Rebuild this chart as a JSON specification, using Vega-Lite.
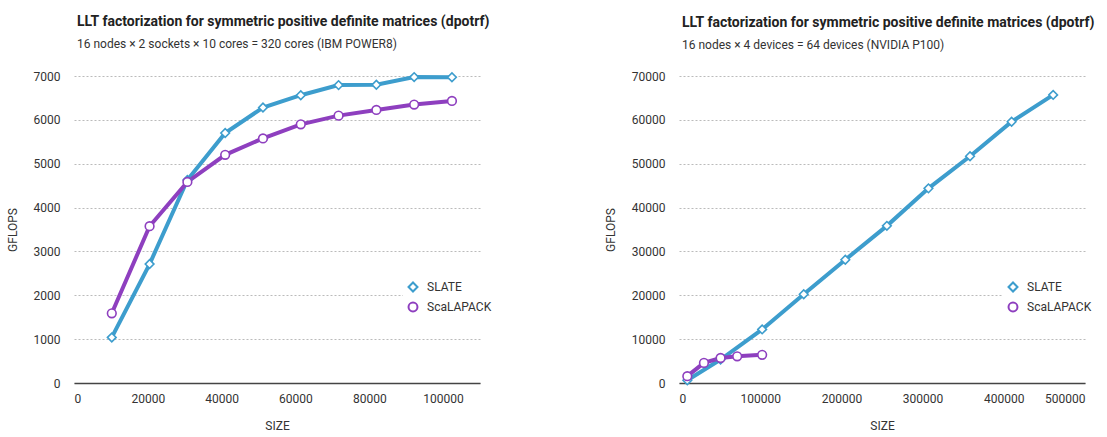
{
  "$schema": "https://vega.github.io/schema/vega-lite/v6.json",
  "background": "white",
  "padding": {"left": 6, "top": 15, "right": 0, "bottom": 0},
  "spacing": 108,
  "datasets": {
    "cpu": [
      {"size": 10240, "gflops": 1039, "lib": "SLATE"},
      {"size": 20480, "gflops": 2712, "lib": "SLATE"},
      {"size": 30720, "gflops": 4630, "lib": "SLATE"},
      {"size": 40960, "gflops": 5699, "lib": "SLATE"},
      {"size": 51200, "gflops": 6280, "lib": "SLATE"},
      {"size": 61440, "gflops": 6562, "lib": "SLATE"},
      {"size": 71680, "gflops": 6792, "lib": "SLATE"},
      {"size": 81920, "gflops": 6799, "lib": "SLATE"},
      {"size": 92160, "gflops": 6975, "lib": "SLATE"},
      {"size": 102400, "gflops": 6972, "lib": "SLATE"},
      {"size": 10240, "gflops": 1589, "lib": "ScaLAPACK"},
      {"size": 20480, "gflops": 3575, "lib": "ScaLAPACK"},
      {"size": 30720, "gflops": 4584, "lib": "ScaLAPACK"},
      {"size": 40960, "gflops": 5203, "lib": "ScaLAPACK"},
      {"size": 51200, "gflops": 5577, "lib": "ScaLAPACK"},
      {"size": 61440, "gflops": 5898, "lib": "ScaLAPACK"},
      {"size": 71680, "gflops": 6096, "lib": "ScaLAPACK"},
      {"size": 81920, "gflops": 6226, "lib": "ScaLAPACK"},
      {"size": 92160, "gflops": 6348, "lib": "ScaLAPACK"},
      {"size": 102400, "gflops": 6432, "lib": "ScaLAPACK"}
    ],
    "gpu": [
      {"size": 10240, "gflops": 611, "lib": "SLATE"},
      {"size": 51200, "gflops": 5350, "lib": "SLATE"},
      {"size": 102400, "gflops": 12220, "lib": "SLATE"},
      {"size": 153600, "gflops": 20240, "lib": "SLATE"},
      {"size": 204800, "gflops": 28110, "lib": "SLATE"},
      {"size": 256000, "gflops": 35830, "lib": "SLATE"},
      {"size": 307200, "gflops": 44380, "lib": "SLATE"},
      {"size": 358400, "gflops": 51710, "lib": "SLATE"},
      {"size": 409600, "gflops": 59580, "lib": "SLATE"},
      {"size": 460800, "gflops": 65690, "lib": "SLATE"},
      {"size": 10240, "gflops": 1560, "lib": "ScaLAPACK"},
      {"size": 30720, "gflops": 4584, "lib": "ScaLAPACK"},
      {"size": 51200, "gflops": 5700, "lib": "ScaLAPACK"},
      {"size": 71680, "gflops": 6096, "lib": "ScaLAPACK"},
      {"size": 102400, "gflops": 6432, "lib": "ScaLAPACK"}
    ]
  },
  "config": {
    "font": "Roboto",
    "view": {"stroke": null},
    "axis": {
      "labelFont": "Roboto",
      "titleFont": "Roboto",
      "labelFontSize": 12,
      "labelColor": "#333333",
      "titleFontSize": 12,
      "titleFontWeight": "normal",
      "titleColor": "#333333",
      "ticks": false,
      "tickSize": 0
    },
    "axisY": {"grid": true, "gridDash": [2, 2], "gridColor": "#bbbbbb", "domain": false, "labelPadding": 14, "titlePadding": 14},
    "axisX": {"grid": false, "domainColor": "#444444", "domainWidth": 1.5, "labelPadding": 10, "titlePadding": 16},
    "legend": {
      "orient": "none",
      "title": null,
      "fillColor": "white",
      "labelFont": "Roboto",
      "labelFontSize": 12,
      "labelColor": "#333333",
      "symbolSize": 80,
      "symbolStrokeWidth": 2,
      "symbolFillColor": "white",
      "rowPadding": 2,
      "padding": 4,
      "labelOffset": 8
    },
    "title": {
      "anchor": "start",
      "frame": "group",
      "font": "Roboto",
      "subtitleFont": "Roboto",
      "fontSize": 14,
      "fontWeight": "bold",
      "color": "#222222",
      "subtitleFontSize": 12,
      "subtitleColor": "#333333",
      "subtitlePadding": 10,
      "offset": 19,
      "dx": 3
    }
  },
  "resolve": {"scale": {"color": "independent", "shape": "independent"}},
  "hconcat": [
    {
      "width": 406,
      "height": 307,
      "title": {"text": "LLT factorization for symmetric positive definite matrices (dpotrf)", "subtitle": "16 nodes × 2 sockets × 10 cores = 320 cores (IBM POWER8)"},
      "data": {"name": "cpu"},
      "encoding": {
        "x": {"field": "size", "type": "quantitative", "scale": {"domain": [0, 110000], "nice": false}, "axis": {"values": [0, 20000, 40000, 60000, 80000, 100000], "format": "d", "title": "SIZE"}},
        "y": {"field": "gflops", "type": "quantitative", "scale": {"domain": [0, 7000], "nice": false}, "axis": {"values": [0, 1000, 2000, 3000, 4000, 5000, 6000, 7000], "format": "d", "title": "GFLOPS"}},
        "color": {"field": "lib", "type": "nominal", "scale": {"domain": ["SLATE", "ScaLAPACK"], "range": ["#3d9dcd", "#8e3fbf"]}, "legend": {"legendX": 329, "legendY": 201}}
      },
      "layer": [
        {"mark": {"type": "line", "strokeWidth": 4}},
        {"mark": {"type": "point", "filled": false, "fill": "white", "size": 75, "strokeWidth": 1.6, "opacity": 1},
         "encoding": {"shape": {"field": "lib", "type": "nominal", "scale": {"domain": ["SLATE", "ScaLAPACK"], "range": ["diamond", "circle"]}, "legend": {"legendX": 329, "legendY": 201}}}}
      ]
    },
    {
      "width": 406,
      "height": 307,
      "title": {"text": "LLT factorization for symmetric positive definite matrices (dpotrf)", "subtitle": "16 nodes × 4 devices = 64 devices (NVIDIA P100)"},
      "data": {"name": "gpu"},
      "encoding": {
        "x": {"field": "size", "type": "quantitative", "scale": {"domain": [0, 500000], "nice": false}, "axis": {"values": [0, 100000, 200000, 300000, 400000, 500000], "format": "d", "title": "SIZE"}},
        "y": {"field": "gflops", "type": "quantitative", "scale": {"domain": [0, 70000], "nice": false}, "axis": {"values": [0, 10000, 20000, 30000, 40000, 50000, 60000, 70000], "format": "d", "title": "GFLOPS"}},
        "color": {"field": "lib", "type": "nominal", "scale": {"domain": ["SLATE", "ScaLAPACK"], "range": ["#3d9dcd", "#8e3fbf"]}, "legend": {"legendX": 324, "legendY": 201}}
      },
      "layer": [
        {"mark": {"type": "line", "strokeWidth": 4}},
        {"mark": {"type": "point", "filled": false, "fill": "white", "size": 75, "strokeWidth": 1.6, "opacity": 1},
         "encoding": {"shape": {"field": "lib", "type": "nominal", "scale": {"domain": ["SLATE", "ScaLAPACK"], "range": ["diamond", "circle"]}, "legend": {"legendX": 324, "legendY": 201}}}}
      ]
    }
  ]
}
